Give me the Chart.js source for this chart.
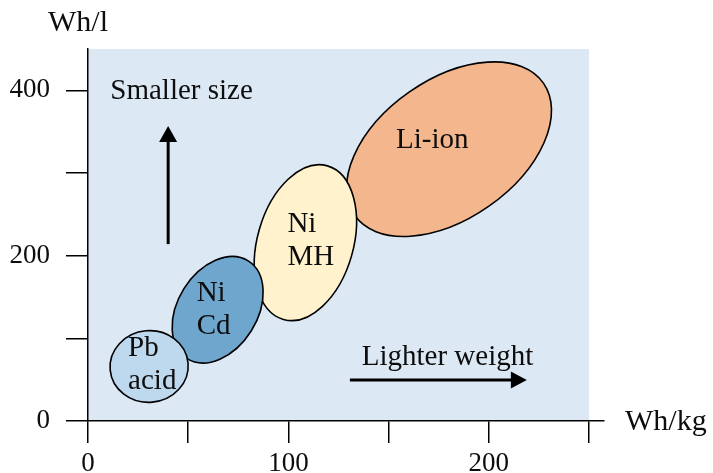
<!DOCTYPE html>
<html>
<head>
<meta charset="utf-8">
<script src="https://cdn.jsdelivr.net/npm/chart.js@4.4.1/dist/chart.umd.min.js"></script>
<style>
  html, body { margin: 0; padding: 0; background: #ffffff; }
  #wrap { width: 713px; height: 473px; position: relative; }
</style>
</head>
<body>
<div id="wrap"><canvas id="c" width="713" height="473"></canvas></div>
<script>
// ---- Data ----
const batteries   = ['Pb\nacid', 'Ni\nCd', 'Ni\nMH', 'Li-ion'];
const whPerKgMin  = [11, 42, 83, 129];
const whPerKgMax  = [50, 87.4, 134, 231.3];
const whPerLMin   = [22.6, 70.2, 121.5, 223.2];
const whPerLMax   = [109.3, 199.0, 310.0, 434.4];
const tiltDeg     = [5, 58, 74, 35];

const xTickValues = [0, 50, 100, 150, 200, 250];
const xTickLabels = ['0', '', '100', '', '200', ''];
const yTickValues = [0, 100, 200, 300, 400];
const yTickLabels = ['0', '', '200', '', '400'];

const xAxisTitle = 'Wh/kg';
const yAxisTitle = 'Wh/l';

const upArrowX     = [40, 40];
const upArrowY     = [214, 357];
const rightArrowX  = [130.7, 219];
const rightArrowY  = [49.6, 49.6];
const noteTexts    = ['Smaller size', 'Lighter weight'];
const noteX        = [46.7, 179.4];
const noteY        = [389.5, 67.8];

// ---- Styles ----
const FONT = "'Liberation Serif', 'DejaVu Serif', serif";
const fills = ['rgb(190,216,238)', 'rgb(111,166,205)', 'rgb(255,242,205)', 'rgb(243,182,141)'];
const labelDx = [-21, -21, -18, -53];
const labelDy = [-10, -9, -11, -1];
const LINE_H = 33;
const plotBg = 'rgb(221,232,245)';
const ink = '#0d0d0d';

const bgPlugin = {
  id: 'plotBg',
  beforeDraw(chart) {
    const {ctx, chartArea, scales: {x, y}} = chart;
    ctx.save();
    const l = x.getPixelForValue(xTickValues[0]);
    const r = x.getPixelForValue(xTickValues[xTickValues.length - 1]);
    const b = y.getPixelForValue(0);
    ctx.fillStyle = plotBg;
    ctx.fillRect(l, chartArea.top, r - l, b - chartArea.top);
    ctx.restore();
  }
};

function ellipseGeom(i, x, y) {
  const x1 = x.getPixelForValue(whPerKgMin[i]), x2 = x.getPixelForValue(whPerKgMax[i]);
  const y1 = y.getPixelForValue(whPerLMin[i]),  y2 = y.getPixelForValue(whPerLMax[i]);
  const cx = (x1 + x2) / 2, cy = (y1 + y2) / 2;
  const hw = Math.abs(x2 - x1) / 2, hh = Math.abs(y2 - y1) / 2;
  const t = tiltDeg[i] * Math.PI / 180;
  const c2 = Math.cos(t) ** 2, s2 = Math.sin(t) ** 2;
  let a, b;
  if (Math.abs(c2 - s2) < 1e-3) { a = hw; b = hh; }
  else {
    a = Math.sqrt(Math.max(1, (hw * hw * c2 - hh * hh * s2) / (c2 - s2)));
    b = Math.sqrt(Math.max(1, (hh * hh * c2 - hw * hw * s2) / (c2 - s2)));
  }
  return {cx, cy, a, b, rot: -t};
}

const ellipsePlugin = {
  id: 'ellipses',
  beforeDatasetsDraw(chart) {
    const {ctx, scales: {x, y}} = chart;
    ctx.save();
    for (let i = batteries.length - 1; i >= 0; i--) {
      const g = ellipseGeom(i, x, y);
      ctx.beginPath();
      ctx.ellipse(g.cx, g.cy, g.a, g.b, g.rot, 0, Math.PI * 2);
      ctx.fillStyle = fills[i];
      ctx.fill();
      ctx.lineWidth = 1.6;
      ctx.strokeStyle = '#000';
      ctx.stroke();
      const lines = batteries[i].split('\n');
      ctx.fillStyle = ink;
      ctx.font = '29px ' + FONT;
      ctx.textAlign = 'left';
      ctx.textBaseline = 'alphabetic';
      lines.forEach((ln, k) => {
        ctx.fillText(ln, g.cx + labelDx[i], g.cy + labelDy[i] + k * LINE_H);
      });
    }
    // annotations
    ctx.strokeStyle = '#000';
    ctx.fillStyle = '#000';
    ctx.lineWidth = 3;
    // up arrow
    const ux = x.getPixelForValue(upArrowX[0]);
    const uy0 = y.getPixelForValue(upArrowY[0]), uy1 = y.getPixelForValue(upArrowY[1]);
    ctx.beginPath(); ctx.moveTo(ux, uy0); ctx.lineTo(ux, uy1 + 14); ctx.stroke();
    ctx.beginPath(); ctx.moveTo(ux, uy1); ctx.lineTo(ux - 9, uy1 + 16); ctx.lineTo(ux + 9, uy1 + 16); ctx.closePath(); ctx.fill();
    // right arrow
    const rx0 = x.getPixelForValue(rightArrowX[0]), rx1 = x.getPixelForValue(rightArrowX[1]);
    const ry = y.getPixelForValue(rightArrowY[0]);
    ctx.beginPath(); ctx.moveTo(rx0, ry); ctx.lineTo(rx1 - 14, ry); ctx.stroke();
    ctx.beginPath(); ctx.moveTo(rx1, ry); ctx.lineTo(rx1 - 16, ry - 8.5); ctx.lineTo(rx1 - 16, ry + 8.5); ctx.closePath(); ctx.fill();
    // notes
    ctx.fillStyle = ink;
    ctx.font = '29px ' + FONT;
    ctx.textAlign = 'center';
    ctx.textBaseline = 'alphabetic';
    noteTexts.forEach((t, k) => {
      ctx.fillText(t, x.getPixelForValue(noteX[k]), y.getPixelForValue(noteY[k]));
    });
    ctx.restore();
  },
  afterDraw(chart) {
    const {ctx, chartArea} = chart;
    ctx.save();
    ctx.fillStyle = ink;
    ctx.font = '30px ' + FONT;
    ctx.textAlign = 'left';
    ctx.textBaseline = 'alphabetic';
    ctx.fillText(yAxisTitle, chartArea.left - 40, chartArea.top - 18);
    ctx.fillText(xAxisTitle, chartArea.right + 21, chartArea.bottom + 9);
    ctx.restore();
  }
};

const datasets = batteries.map((name, i) => ({
  label: name.replace('\n', ' '),
  data: [{x: (whPerKgMin[i] + whPerKgMax[i]) / 2, y: (whPerLMin[i] + whPerLMax[i]) / 2}],
  pointRadius: 0,
  pointHoverRadius: 0,
  showLine: false
}));

new Chart(document.getElementById('c'), {
  type: 'scatter',
  data: { datasets },
  options: {
    responsive: false,
    animation: false,
    events: [],
    layout: { padding: { left: 0, top: 49, right: 109, bottom: 0 } },
    plugins: { legend: { display: false }, tooltip: { enabled: false }, title: { display: false } },
    scales: {
      x: {
        type: 'linear',
        min: 0,
        max: 257.5,
        afterFit(s) { s.height = 52; },
        afterBuildTicks(s) { s.ticks = xTickValues.map(v => ({value: v})); },
        ticks: {
          includeBounds: false,
          padding: 5,
          color: ink,
          font: { family: FONT, size: 27 },
          maxRotation: 0,
          autoSkip: false,
          callback(v) { const i = xTickValues.indexOf(v); return i >= 0 ? xTickLabels[i] : ''; }
        },
        grid: { drawOnChartArea: false, drawTicks: true, tickLength: 22, color: '#000', lineWidth: 1.5 },
        border: { display: true, color: '#000', width: 1.5 }
      },
      y: {
        type: 'linear',
        min: 0,
        max: 450,
        afterFit(s) { s.width = 88; },
        afterBuildTicks(s) { s.ticks = yTickValues.map(v => ({value: v})); },
        ticks: {
          includeBounds: false,
          padding: 16,
          color: ink,
          font: { family: FONT, size: 27 },
          autoSkip: false,
          callback(v) { const i = yTickValues.indexOf(v); return i >= 0 ? yTickLabels[i] : ''; }
        },
        grid: { drawOnChartArea: false, drawTicks: true, tickLength: 22, color: '#000', lineWidth: 1.5 },
        border: { display: true, color: '#000', width: 1.5 }
      }
    }
  },
  plugins: [bgPlugin, ellipsePlugin]
});
</script>
</body>
</html>
